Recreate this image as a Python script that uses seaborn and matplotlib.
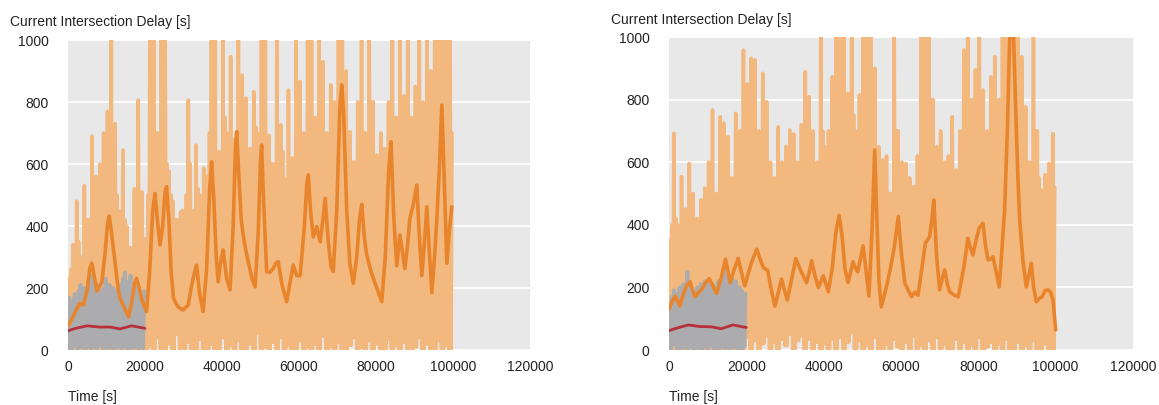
"""
Current intersection delay over time, two runs side by side
"""

import pandas as pd
import matplotlib
matplotlib.use("Agg")
import matplotlib.pyplot as plt
import seaborn as sns

# ---- data (time in seconds, delay in seconds) ----
STEP = 1000          # raw series: low, spike, low, smaller spike per STEP
GRAY_STEP = 500      # baseline raw series is a bit denser

# left run: raw delay
left_raw_peaks = [
    230, 340, 480, 300, 530, 420, 690, 560, 600, 700,
    770, 1000, 730, 450, 645, 400, 330, 520, 806, 510,
    360, 1000, 1000, 700, 1000, 1000, 575, 480, 420, 445,
    400, 806, 430, 661, 500, 587, 560, 1000, 1000, 640,
    1000, 700, 946, 600, 1000, 887, 812, 650, 833, 700,
    1000, 1000, 693, 600, 1000, 726, 554, 838, 620, 1000,
    866, 700, 1000, 1000, 750, 1000, 930, 700, 855, 800,
    1000, 1000, 900, 704, 607, 800, 1000, 700, 1000, 801,
    629, 700, 650, 800, 1000, 750, 1000, 820, 1000, 750,
    850, 1000, 800, 1000, 900, 1000, 1000, 1000, 1000, 1000,
]
left_raw_peaks2 = [
    260, 300, 350, 280, 420, 380, 450, 500, 420, 550,
    480, 600, 500, 380, 420, 330, 300, 380, 450, 300,
    500, 750, 650, 550, 800, 600, 500, 420, 380, 450,
    500, 600, 450, 520, 480, 560, 700, 650, 550, 600,
    750, 600, 680, 550, 850, 700, 620, 580, 720, 600,
    800, 650, 600, 520, 700, 640, 500, 600, 560, 750,
    650, 600, 800, 700, 620, 700, 650, 560, 620, 650,
    850, 700, 640, 520, 480, 600, 700, 560, 650, 620,
    500, 560, 600, 650, 750, 580, 700, 600, 750, 600,
    650, 750, 580, 800, 620, 700, 850, 900, 650, 700,
]
left_raw_lows = [
    0, 0, 5, 0, 0, 0, 5, 0, 0, 0,
    0, 5, 0, 0, 0, 0, 5, 0, 0, 0,
    0, 10, 0, 40, 0, 0, 20, 0, 50, 0,
    0, 25, 0, 0, 35, 0, 0, 20, 0, 0,
    40, 0, 15, 0, 30, 0, 0, 20, 0, 55,
    0, 10, 0, 25, 0, 40, 0, 15, 0, 0,
    30, 0, 10, 0, 20, 0, 45, 0, 10, 0,
    25, 0, 0, 15, 40, 0, 10, 0, 30, 0,
    20, 0, 0, 35, 0, 15, 0, 25, 0, 0,
    10, 40, 0, 20, 0, 0, 30, 0, 15, 0,
]
left_smooth_t = [
    0, 1000, 2000, 3000, 4000, 5000, 5700, 6200, 6800, 7500,
    8200, 8800, 9600, 10300, 10700, 11200, 12200, 13000, 13500, 14500,
    15700, 16500, 17300, 17800, 18500, 19200, 20400, 21200, 22000, 22600,
    23200, 23900, 24600, 25200, 25600, 26200, 26800, 27400, 28500, 29900,
    31200, 32000, 32500, 33400, 34200, 35100, 36000, 36800, 37300, 37900,
    38500, 39000, 39600, 40300, 41200, 42100, 42900, 43500, 43800, 44300,
    45000, 45500, 46200, 46800, 47800, 48600, 49400, 50000, 50300, 50800,
    51600, 52400, 53300, 54000, 54600, 55600, 56800, 57700, 58500, 59400,
    60300, 61400, 62000, 62400, 63000, 63700, 64600, 65500, 66200, 66800,
    67600, 68300, 68900, 69800, 70600, 71100, 71600, 72400, 73200, 74100,
    75000, 75700, 76300, 77000, 77600, 78900, 80200, 81500, 82400, 83300,
    83900, 84600, 85400, 86200, 87500, 88200, 88800, 89700, 90600, 91200,
    91900, 92600, 93200, 93800, 94500, 95200, 95800, 96500, 97100, 97700,
    98400, 99000, 99700,
]
left_smooth_v = [
    78, 100, 125, 150, 145, 195, 265, 280, 240, 190,
    205, 220, 310, 410, 432, 390, 285, 200, 167, 140,
    107, 150, 215, 231, 200, 160, 124, 250, 450, 505,
    420, 339, 400, 510, 527, 420, 250, 167, 140, 129,
    145, 200, 231, 274, 180, 124, 260, 520, 607, 480,
    300, 220, 280, 323, 230, 194, 400, 650, 704, 580,
    420, 371, 320, 285, 230, 204, 380, 610, 661, 480,
    253, 250, 263, 280, 285, 210, 156, 220, 274, 240,
    240, 400, 530, 565, 450, 365, 398, 349, 420, 489,
    350, 270, 253, 450, 780, 855, 760, 450, 280, 215,
    300, 420, 470, 360, 306, 245, 200, 156, 300, 580,
    672, 430, 272, 371, 263, 340, 425, 470, 532, 380,
    240, 350, 462, 330, 185, 300, 422, 600, 790, 560,
    280, 380, 462,
]

# right run
right_raw_peaks = [
    350, 692, 400, 554, 450, 596, 500, 420, 480, 517,
    600, 767, 500, 745, 725, 681, 550, 756, 700, 958,
    850, 932, 927, 700, 884, 793, 600, 550, 713, 600,
    650, 703, 690, 600, 720, 889, 809, 700, 600, 1000,
    650, 700, 873, 1000, 1000, 1000, 820, 1000, 700, 815,
    1000, 1000, 1000, 900, 650, 607, 620, 500, 1000, 700,
    600, 596, 550, 522, 620, 1000, 1000, 1000, 800, 650,
    700, 600, 620, 745, 575, 700, 958, 1000, 800, 895,
    1000, 831, 700, 872, 937, 800, 1000, 1000, 1000, 1000,
    1000, 937, 777, 600, 1000, 700, 511, 560, 596, 692,
]
right_raw_peaks2 = [
    400, 420, 380, 430, 400, 450, 420, 380, 400, 420,
    450, 480, 420, 500, 520, 480, 450, 520, 500, 600,
    650, 600, 580, 500, 620, 550, 480, 450, 500, 520,
    550, 500, 520, 480, 560, 600, 580, 500, 480, 700,
    520, 560, 600, 750, 800, 700, 600, 750, 550, 600,
    700, 800, 750, 600, 520, 480, 500, 450, 700, 550,
    500, 480, 450, 460, 520, 750, 700, 800, 600, 520,
    550, 500, 480, 550, 480, 560, 650, 700, 600, 650,
    700, 620, 560, 650, 700, 620, 800, 850, 900, 800,
    750, 650, 600, 520, 700, 550, 450, 480, 500, 520,
]
right_raw_lows = [
    0, 0, 5, 0, 0, 5, 0, 0, 5, 0,
    0, 0, 5, 0, 0, 0, 5, 0, 0, 0,
    40, 0, 30, 0, 20, 45, 0, 25, 0, 35,
    15, 50, 0, 30, 45, 0, 35, 0, 25, 0,
    20, 0, 35, 0, 40, 0, 25, 55, 0, 30,
    0, 15, 0, 40, 0, 0, 20, 0, 35, 10,
    0, 25, 0, 45, 0, 15, 0, 30, 0, 40,
    0, 20, 0, 0, 35, 0, 25, 0, 15, 0,
    40, 0, 10, 25, 0, 20, 0, 35, 0, 0,
    25, 0, 15, 0, 30, 0, 0, 20, 0, 0,
]
right_smooth_t = [
    0, 800, 1600, 2200, 2800, 3600, 4500, 5400, 6000, 6700,
    7500, 8400, 9400, 10400, 11300, 12300, 13500, 14600, 15200, 15800,
    16800, 17900, 18700, 19600, 20500, 21400, 22700, 23600, 24400, 25500,
    26500, 27400, 28200, 29100, 29900, 30600, 31700, 32800, 34200, 35600,
    36300, 36900, 37700, 38600, 39900, 41200, 42200, 43200, 44000, 44800,
    45500, 46300, 47000, 47600, 48200, 48800, 49500, 50200, 51000, 51700,
    52500, 53200, 53800, 54300, 54900, 56000, 57100, 58300, 59300, 60100,
    61000, 62700, 63600, 64400, 65400, 66300, 67400, 68000, 68500, 69200,
    70000, 70700, 71300, 72000, 72600, 73800, 74800, 76200, 77300, 78000,
    78600, 79400, 80200, 81200, 81900, 82500, 83200, 83800, 84600, 85400,
    86100, 86800, 87500, 88100, 88900, 89600, 90200, 90700, 91500, 92400,
    93100, 93700, 94300, 95000, 95800, 96500, 97300, 98000, 98700, 99300,
    100000,
]
right_smooth_v = [
    130, 155, 172, 158, 140, 175, 205, 218, 195, 170,
    182, 192, 215, 228, 205, 181, 230, 290, 255, 215,
    255, 293, 250, 205, 245, 282, 322, 290, 263, 255,
    190, 140, 180, 227, 190, 160, 225, 292, 250, 215,
    250, 285, 240, 200, 237, 186, 260, 380, 430, 360,
    260, 215, 250, 282, 262, 250, 290, 333, 250, 172,
    380, 639, 400, 220, 138, 190, 250, 330, 426, 310,
    213, 170, 185, 175, 260, 341, 362, 420, 479, 300,
    192, 230, 256, 210, 186, 175, 170, 260, 357, 325,
    304, 350, 389, 405, 330, 288, 290, 298, 250, 202,
    320, 447, 700, 990, 1080, 800, 560, 415, 290, 202,
    240, 277, 200, 154, 165, 170, 190, 192, 185, 160,
    64,
]

# baseline run (first 20000 s only), raw every 500 s
left_base_peaks = [
    170, 140, 160, 180, 150, 190, 210, 170, 200, 160,
    220, 190, 240, 200, 180, 210, 190, 170, 200, 230,
    180, 210, 170, 200, 190, 160, 180, 210, 230, 250,
    220, 200, 240, 190, 170, 200, 180, 160, 150, 190,
]
left_base_lows = [
    5, 20, 0, 12, 25, 3, 15, 8, 22, 0,
    10, 18, 4, 25, 9, 0, 14, 20, 6, 11,
    2, 19, 8, 24, 0, 13, 7, 21, 3, 16,
    10, 0, 23, 5, 14, 9, 20, 2, 17, 6,
]
right_base_peaks = [
    140, 170, 190, 160, 180, 200, 190, 210, 200, 250,
    220, 200, 190, 180, 200, 190, 210, 200, 220, 190,
    220, 200, 210, 190, 200, 220, 210, 240, 260, 230,
    240, 220, 230, 210, 220, 200, 200, 190, 180, 180,
]
right_base_lows = [
    8, 0, 15, 22, 4, 12, 0, 18, 7, 25,
    3, 14, 9, 0, 20, 6, 16, 2, 24, 10,
    0, 13, 19, 5, 11, 0, 22, 8, 15, 3,
    18, 6, 0, 21, 9, 14, 2, 17, 5, 12,
]
base_smooth_t = [0, 2000, 5000, 8000, 11000, 13500, 16500, 20000]
left_base_smooth_v = [62, 70, 78, 74, 74, 68, 78, 70]
right_base_smooth_v = [62, 70, 80, 75, 74, 68, 80, 72]

X_TICKS = [0, 20000, 40000, 60000, 80000, 100000, 120000]
Y_TICKS = [0, 200, 400, 600, 800, 1000]

RAW_ORANGE = "#F2B87E"
LINE_ORANGE = "#E8852C"
RAW_GRAY = "#ACACAE"
LINE_RED = "#B8303A"


def raw_series(peaks, lows, step, peaks2=None):
    """Interleave lows and spikes into one raw series"""
    t, v = [], []
    for i, (p, l) in enumerate(zip(peaks, lows)):
        if peaks2 is None:
            t += [i * step, i * step + step / 2]
            v += [l, p]
        else:
            t += [i * step, i * step + step / 4,
                  i * step + step / 2, i * step + 3 * step / 4]
            v += [l, p, l, peaks2[i]]
    return pd.DataFrame({"time": t, "delay": v})


def draw_panel(ax, peaks, peaks2, lows, st, sv, bpeaks, blows, bsv,
               ylab_xy, xlab_xy):
    raw = raw_series(peaks, lows, STEP, peaks2)
    base = raw_series(bpeaks, blows, GRAY_STEP)
    sns.lineplot(data=raw, x="time", y="delay", ax=ax, color=RAW_ORANGE,
                 lw=2.6, sort=False, errorbar=None)
    sns.lineplot(data=base, x="time", y="delay", ax=ax, color=RAW_GRAY,
                 lw=2.8, sort=False, errorbar=None)
    sns.lineplot(x=st, y=sv, ax=ax, color=LINE_ORANGE, lw=2.6,
                 sort=False, errorbar=None)
    sns.lineplot(x=base_smooth_t, y=bsv, ax=ax, color=LINE_RED, lw=2.0,
                 sort=False, errorbar=None)

    ax.set_xlim(0, 120000)
    ax.set_ylim(0, 1000)
    ax.set_xticks(X_TICKS)
    ax.set_yticks(Y_TICKS)
    ax.set_xticklabels([str(x) for x in X_TICKS])
    ax.set_yticklabels([str(y) for y in Y_TICKS])
    ax.grid(axis="y", color="white", lw=1.3)
    ax.grid(axis="x", visible=False)
    ax.tick_params(axis="both", length=0, labelsize=10, colors="#222222")
    ax.tick_params(axis="y", pad=14)
    ax.tick_params(axis="x", pad=7)
    for s in ax.spines.values():
        s.set_visible(False)

    ax.set_ylabel("Current Intersection Delay [s]", rotation=0, ha="left",
                  va="center", fontsize=10, color="#222222")
    ax.yaxis.set_label_coords(*ylab_xy)
    ax.set_xlabel("Time [s]", ha="left", va="center", fontsize=10,
                  color="#222222")
    ax.xaxis.set_label_coords(*xlab_xy)


sns.set_theme(style="darkgrid", rc={"axes.facecolor": "#E8E8E8"})
plt.rcParams["font.family"] = ["Liberation Sans", "DejaVu Sans"]

fig = plt.figure(figsize=(11.59, 4.05), dpi=100)
ax1 = fig.add_axes([68 / 1159, 55 / 405, 462 / 1159, 310 / 405])
ax2 = fig.add_axes([669 / 1159, 55 / 405, 464 / 1159, 313 / 405])

draw_panel(ax1, left_raw_peaks, left_raw_peaks2, left_raw_lows,
           left_smooth_t, left_smooth_v,
           left_base_peaks, left_base_lows, left_base_smooth_v,
           (-0.1255, 1.058), (0.0, -0.152))
draw_panel(ax2, right_raw_peaks, right_raw_peaks2, right_raw_lows,
           right_smooth_t, right_smooth_v,
           right_base_peaks, right_base_lows, right_base_smooth_v,
           (-0.125, 1.054), (0.0, -0.150))

fig.savefig("out.png", dpi=100, facecolor="white")
